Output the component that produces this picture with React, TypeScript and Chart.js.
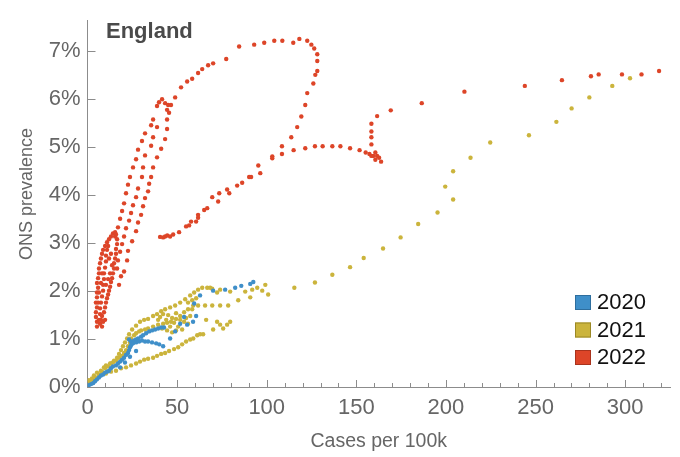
import { useEffect, useRef } from "react";
import { Chart, registerables } from "chart.js";

Chart.register(...registerables);

// [cases per 100k, ONS prevalence %]
const years = ["2020", "2021", "2022"];
const yearColors = ["#3f8fc9", "#cbb43c", "#dd4528"];
const yearEdges = ["#2e6e9e", "#9a8826", "#a9331d"];

const points2020: [number, number][] = [
  [0.8, 0.04], [2.0, 0.06], [3.1, 0.08], [4.2, 0.12], [5.3, 0.16], [6.4, 0.2], [7.5, 0.24], [8.7, 0.26],
  [9.8, 0.3], [10.9, 0.32], [12.0, 0.34], [13.1, 0.39], [14.2, 0.43], [15.9, 0.45], [17.0, 0.49], [18.2, 0.53],
  [19.3, 0.57], [20.4, 0.61], [21.5, 0.67], [22.6, 0.71], [23.2, 0.77], [23.7, 0.83], [24.3, 0.87], [24.9, 0.93],
  [26.0, 0.97], [27.1, 0.99], [28.2, 1.01], [29.9, 1.05], [31.0, 1.08], [32.7, 1.12], [34.4, 1.16], [36.0, 1.18],
  [37.7, 1.2], [39.4, 1.22], [41.1, 1.24], [42.7, 1.24],
  [23.2, 0.99], [24.3, 0.95], [25.4, 0.91], [27.1, 0.93], [28.8, 0.95], [30.4, 0.97], [32.1, 0.95], [33.8, 0.95],
  [36.0, 0.93], [38.3, 0.91], [40.0, 0.89], [42.2, 0.85],
  [18.2, 0.41], [20.9, 0.51], [23.7, 0.63], [27.1, 0.75],
  [46.1, 1.01], [48.9, 1.16], [51.7, 1.32], [53.9, 1.46], [55.6, 1.3], [58.9, 1.36], [60.6, 1.48], [59.5, 1.74],
  [62.8, 1.91], [70.1, 2.01], [76.8, 2.03], [82.4, 2.07], [85.8, 2.11], [90.8, 2.15], [92.5, 2.19],
];

const points2021: [number, number][] = [
  // middle band
  [0.8, 0.14], [2.5, 0.18], [3.6, 0.24], [5.3, 0.3], [7.5, 0.34], [9.2, 0.41], [10.3, 0.45], [12.6, 0.49],
  [14.2, 0.51], [15.9, 0.55], [17.6, 0.61], [19.3, 0.65], [20.4, 0.71], [21.5, 0.77], [22.6, 0.85], [23.7, 0.93],
  [24.3, 1.01], [26.0, 1.08], [27.1, 1.12], [28.8, 1.16], [29.9, 1.18], [32.1, 1.2], [33.8, 1.22], [36.6, 1.26],
  [39.4, 1.3], [42.2, 1.32], [44.4, 1.34], [46.6, 1.36], [49.4, 1.42], [51.7, 1.48], [53.9, 1.56], [56.1, 1.62],
  [59.0, 1.7],
  // upper strand
  [1.4, 0.08], [3.1, 0.14], [4.7, 0.2], [6.4, 0.26], [8.1, 0.32], [9.8, 0.39], [11.5, 0.43], [13.1, 0.49],
  [14.8, 0.55], [16.5, 0.61], [17.6, 0.69], [18.7, 0.77], [19.8, 0.85], [20.9, 0.93], [22.1, 1.01], [23.2, 1.1],
  [24.9, 1.2], [27.1, 1.28], [29.3, 1.36], [31.6, 1.4], [33.8, 1.42], [36.6, 1.48], [38.8, 1.52], [41.1, 1.58],
  [43.3, 1.62], [46.1, 1.66], [48.9, 1.7], [51.7, 1.76], [54.5, 1.83], [57.3, 1.91], [59.5, 1.97], [61.7, 2.03],
  [64.0, 2.07], [66.8, 2.07], [69.6, 2.05], [72.3, 1.97],
  // lower strand
  [7.0, 0.24], [10.3, 0.28], [13.1, 0.32], [15.9, 0.34], [18.7, 0.39], [21.5, 0.41], [24.3, 0.45], [27.1, 0.49],
  [29.3, 0.53], [31.6, 0.57], [33.8, 0.59], [36.6, 0.61], [38.8, 0.65], [41.1, 0.69], [43.3, 0.71], [45.5, 0.75],
  [48.3, 0.79], [50.6, 0.83], [52.8, 0.89], [55.0, 0.95], [57.3, 0.99], [59.0, 1.01], [61.2, 1.08], [62.8, 1.1],
  [64.5, 1.1], [66.2, 1.4], [70.1, 1.2], [72.3, 1.36], [74.0, 1.3], [75.7, 1.22], [77.9, 1.3], [79.6, 1.36],
  // blob
  [40.5, 1.46], [42.2, 1.52], [43.9, 1.4], [45.0, 1.5], [46.1, 1.26], [47.2, 1.44], [48.3, 1.34], [49.4, 1.54],
  [50.6, 1.26], [51.7, 1.4], [52.8, 1.2], [53.9, 1.36], [55.0, 1.44], [56.1, 1.32], [57.3, 1.48], [44.4, 1.18],
  [47.2, 1.14], [49.4, 1.18], [41.6, 1.22], [39.4, 1.4], [56.1, 1.76], [58.4, 1.81], [60.6, 1.85],
  // upper right
  [68.4, 2.07], [74.0, 2.03], [79.6, 1.99], [88.0, 1.99], [91.9, 2.03], [94.7, 2.07], [97.5, 2.01], [99.2, 2.13],
  [100.8, 1.93], [90.8, 1.87], [84.1, 1.81], [78.5, 1.7], [74.0, 1.7], [69.6, 1.7], [65.6, 1.7], [61.7, 1.7],
  [58.4, 1.62], [115.4, 2.07],
  // December tail
  [126.9, 2.18], [136.6, 2.34], [146.5, 2.5], [154.1, 2.69], [164.9, 2.89], [174.7, 3.12], [184.5, 3.4],
  [195.3, 3.64], [204.0, 3.91], [199.6, 4.18], [204.0, 4.5], [213.7, 4.78], [224.7, 5.1], [246.3, 5.25],
  [261.6, 5.53], [270.1, 5.81], [280.0, 6.04], [292.8, 6.28], [302.7, 6.44],
];

const points2022: [number, number][] = [
  // January fall from the Omicron peak
  [318.9, 6.59], [309.1, 6.52], [298.2, 6.52], [285.2, 6.52], [280.9, 6.48], [264.7, 6.4], [244.0, 6.28],
  [210.3, 6.16], [186.5, 5.92], [169.2, 5.77], [161.6, 5.65], [158.4, 5.49], [158.4, 5.33], [158.4, 5.21],
  [158.4, 5.06], [163.8, 4.7], [162.7, 4.78], [160.6, 4.74], [161.6, 4.82], [160.6, 4.89], [159.5, 4.82],
  [158.4, 4.82], [157.3, 4.86], [155.2, 4.89], [151.8, 4.94], [146.5, 4.98], [141.1, 5.02], [136.6, 5.02],
  [131.2, 5.02], [126.9, 5.02], [121.5, 4.98], [115.0, 4.94],
  // BA.2 loop
  [108.5, 5.02], [108.5, 4.86], [103.1, 4.81], [103.1, 4.77], [113.7, 5.21], [117.0, 5.42], [119.3, 5.64],
  [121.5, 5.88], [122.6, 6.13], [126.0, 6.33], [127.1, 6.51], [128.2, 6.59], [128.2, 6.8], [128.2, 6.94],
  [126.5, 7.06], [124.9, 7.14], [122.6, 7.22], [118.2, 7.26], [114.8, 7.18], [108.7, 7.22], [104.2, 7.22],
  [98.6, 7.18], [93.0, 7.14], [84.6, 7.1], [77.4, 6.84], [70.1, 6.75], [67.3, 6.71], [64.0, 6.63],
  [61.7, 6.55], [58.4, 6.43], [55.6, 6.37], [52.2, 6.25], [48.9, 6.04],
  // autumn branch
  [95.3, 4.62], [96.4, 4.46], [91.3, 4.38], [90.2, 4.38], [86.3, 4.26], [83.5, 4.2], [79.1, 4.04], [77.9, 4.12],
  [73.5, 4.04], [72.9, 3.87], [69.6, 3.96], [66.8, 3.73], [65.1, 3.69], [61.7, 3.59], [61.7, 3.53], [60.6, 3.45],
  [57.8, 3.45], [56.7, 3.37], [55.0, 3.35], [51.1, 3.23], [47.8, 3.18], [46.1, 3.14], [43.3, 3.14], [42.2, 3.12],
  [44.5, 3.16], [40.5, 3.13],
  // peak
  [41.6, 6.0], [39.9, 5.94], [38.8, 5.86], [43.3, 5.92], [45.0, 5.88], [46.6, 5.88], [44.4, 5.78], [45.5, 5.72],
  // descending strands
  [36.6, 5.58], [35.5, 5.46], [32.1, 5.29], [30.4, 5.13], [28.2, 4.95], [27.1, 4.75], [25.4, 4.58], [23.7, 4.38],
  [22.6, 4.22], [21.5, 4.04], [20.4, 3.83], [19.3, 3.67], [18.2, 3.51], [17.0, 3.33], [15.4, 3.14],
  [38.8, 5.42], [36.6, 5.21], [35.5, 5.03], [32.1, 4.83], [31.0, 4.58], [30.4, 4.38], [28.2, 4.14], [27.1, 3.96],
  [25.4, 3.79], [24.3, 3.63], [23.2, 3.47], [21.5, 3.31], [20.4, 3.14], [19.3, 2.98], [18.2, 2.82], [17.0, 2.64],
  [16.5, 2.47],
  [44.4, 5.58], [44.4, 5.38], [43.3, 5.17], [41.1, 4.97], [38.8, 4.79], [36.6, 4.58], [35.5, 4.38], [34.4, 4.24],
  [33.8, 4.08], [32.1, 3.94], [31.0, 3.77], [29.9, 3.59], [28.2, 3.43], [27.1, 3.25], [24.9, 3.04], [22.6, 2.84],
  [22.1, 2.64], [20.4, 2.41], [18.7, 2.31], [17.6, 2.13],
  // low-case summer loops
  [5.3, 1.26], [5.3, 1.36], [4.7, 1.46], [4.7, 1.56], [5.3, 1.66], [4.7, 1.76], [5.3, 1.87], [5.3, 1.97],
  [5.9, 2.07], [5.3, 2.17], [5.9, 2.27], [6.4, 2.37], [6.4, 2.47], [7.0, 2.58], [7.5, 2.68], [8.1, 2.78],
  [8.7, 2.86], [9.8, 2.94], [10.9, 3.02], [12.0, 3.08], [13.1, 3.14], [14.2, 3.2], [15.4, 3.23],
  [7.0, 1.32], [7.5, 1.4], [8.1, 1.48], [9.2, 1.56], [9.8, 1.66], [10.3, 1.76], [10.9, 1.85], [11.5, 1.93],
  [12.0, 2.01], [12.6, 2.09], [13.1, 2.19], [13.7, 2.27], [14.2, 2.37], [14.8, 2.47], [14.8, 2.58], [15.4, 2.68],
  [15.9, 2.78], [15.9, 2.88], [16.5, 2.98], [16.5, 3.08], [15.9, 3.18],
  [6.4, 1.4], [7.0, 1.52], [7.0, 1.64], [7.5, 1.76], [8.1, 1.89], [8.7, 2.01], [8.7, 2.13], [9.2, 2.25],
  [9.2, 2.37], [9.8, 2.49], [10.3, 2.62], [10.3, 2.74], [10.9, 2.86], [11.5, 2.94],
  [8.1, 1.26], [8.7, 1.36], [9.8, 1.4], [5.9, 1.76], [6.4, 1.97], [7.5, 2.17], [8.1, 2.37], [12.0, 2.68],
  [13.1, 2.78], [13.7, 2.54], [12.6, 2.37], [11.5, 2.25], [10.3, 2.13],
];

const xTickValues = [0, 50, 100, 150, 200, 250, 300];
const yTickLabels = ["0%", "1%", "2%", "3%", "4%", "5%", "6%", "7%"];

const axisColor = "#8c8c8c";
const labelColor = "#666666";
const sans = "'Liberation Sans', Arial, Helvetica, sans-serif";
const narrow = "'Liberation Sans Narrow', 'Liberation Sans', Arial, sans-serif";

const innerTicks = {
  id: "innerTicks",
  beforeDatasetsDraw(chart: Chart) {
    const { ctx, chartArea } = chart;
    const x = chart.scales.x;
    const y = chart.scales.y;
    ctx.save();
    ctx.strokeStyle = axisColor;
    ctx.lineWidth = 1;
    ctx.beginPath();
    for (let v = 0; v <= 320; v += 10) {
      const px = Math.round(x.getPixelForValue(v)) + 0.5;
      const len = v % 50 === 0 ? 7 : 4;
      ctx.moveTo(px, chartArea.bottom);
      ctx.lineTo(px, chartArea.bottom - len);
    }
    for (let v = 0; v < yTickLabels.length; v++) {
      const py = Math.round(y.getPixelForValue(v)) + 0.5;
      ctx.moveTo(chartArea.left, py);
      ctx.lineTo(chartArea.left + 8, py);
    }
    ctx.stroke();
    ctx.restore();
  },
};

const titleAndLegend = {
  id: "titleAndLegend",
  afterDraw(chart: Chart) {
    const { ctx } = chart;
    ctx.save();
    ctx.fillStyle = "#4a4a4a";
    ctx.font = `bold 22px ${sans}`;
    ctx.textBaseline = "alphabetic";
    ctx.textAlign = "left";
    ctx.fillText("England", 106, 37.5);

    // y axis title
    ctx.save();
    ctx.translate(27, 194);
    ctx.rotate(-Math.PI / 2);
    ctx.fillStyle = labelColor;
    ctx.font = `18px ${sans}`;
    ctx.textAlign = "center";
    ctx.textBaseline = "middle";
    ctx.fillText("ONS prevalence", 0, 0);
    ctx.restore();

    ctx.font = `22px ${sans}`;
    ctx.textBaseline = "middle";
    ctx.textAlign = "left";
    chart.data.datasets.forEach((ds, i) => {
      const top = 295 + i * 27.5;
      ctx.fillStyle = yearColors[i];
      ctx.fillRect(575, top, 16, 15);
      ctx.strokeStyle = yearEdges[i];
      ctx.lineWidth = 1;
      ctx.strokeRect(575.5, top + 0.5, 15, 14);
      ctx.fillStyle = "#111111";
      ctx.fillText(String(ds.label), 597, top + 8);
    });
    ctx.restore();
  },
};

export default function App() {
  const canvasRef = useRef<HTMLCanvasElement>(null);
  const chartRef = useRef<Chart | null>(null);

  useEffect(() => {
    if (!canvasRef.current) return;
    chartRef.current?.destroy();

    const series = [points2020, points2021, points2022];

    chartRef.current = new Chart(canvasRef.current, {
      type: "scatter",
      data: {
        datasets: series.map((pts, i) => ({
          label: years[i],
          data: pts.map(([x, y]) => ({ x, y })),
          backgroundColor: yearColors[i],
          borderWidth: 0,
          pointRadius: 2.2,
          pointHoverRadius: 2.2,
        })),
      },
      options: {
        animation: false,
        responsive: true,
        maintainAspectRatio: false,
        layout: { padding: { top: 10, right: 10, left: 0, bottom: 0 } },
        plugins: { legend: { display: false }, tooltip: { enabled: false } },
        scales: {
          x: {
            type: "linear",
            min: 0,
            max: 325,
            grid: { display: false, drawTicks: false },
            border: { display: true, color: axisColor, width: 1 },
            afterFit: (s: any) => {
              s.height = 70;
            },
            afterBuildTicks: (s: any) => {
              s.ticks = xTickValues.map((value) => ({ value }));
            },
            ticks: {
              color: labelColor,
              font: { family: narrow, size: 22 },
              padding: 8,
              maxRotation: 0,
            },
            title: {
              display: true,
              text: "Cases per 100k",
              color: labelColor,
              font: { family: sans, size: 19.5 },
              padding: { top: 0, bottom: 4 },
            },
          },
          y: {
            type: "linear",
            min: 0,
            max: 7.65,
            grid: { display: false, drawTicks: false },
            border: { display: true, color: axisColor, width: 1 },
            afterFit: (s: any) => {
              s.width = 87.5;
            },
            afterBuildTicks: (s: any) => {
              s.ticks = yTickLabels.map((_, value) => ({ value }));
            },
            ticks: {
              color: labelColor,
              font: { family: narrow, size: 22 },
              padding: 7,
              callback: (v: any) => yTickLabels[Math.round(Number(v))],
            },
            title: { display: false },
          },
        },
      },
      plugins: [innerTicks, titleAndLegend],
    });

    return () => {
      chartRef.current?.destroy();
    };
  }, []);

  return (
    <div style={{ position: "absolute", left: 0, top: 0, width: "680px", height: "457px", background: "#fff" }}>
      <canvas ref={canvasRef} />
    </div>
  );
}
